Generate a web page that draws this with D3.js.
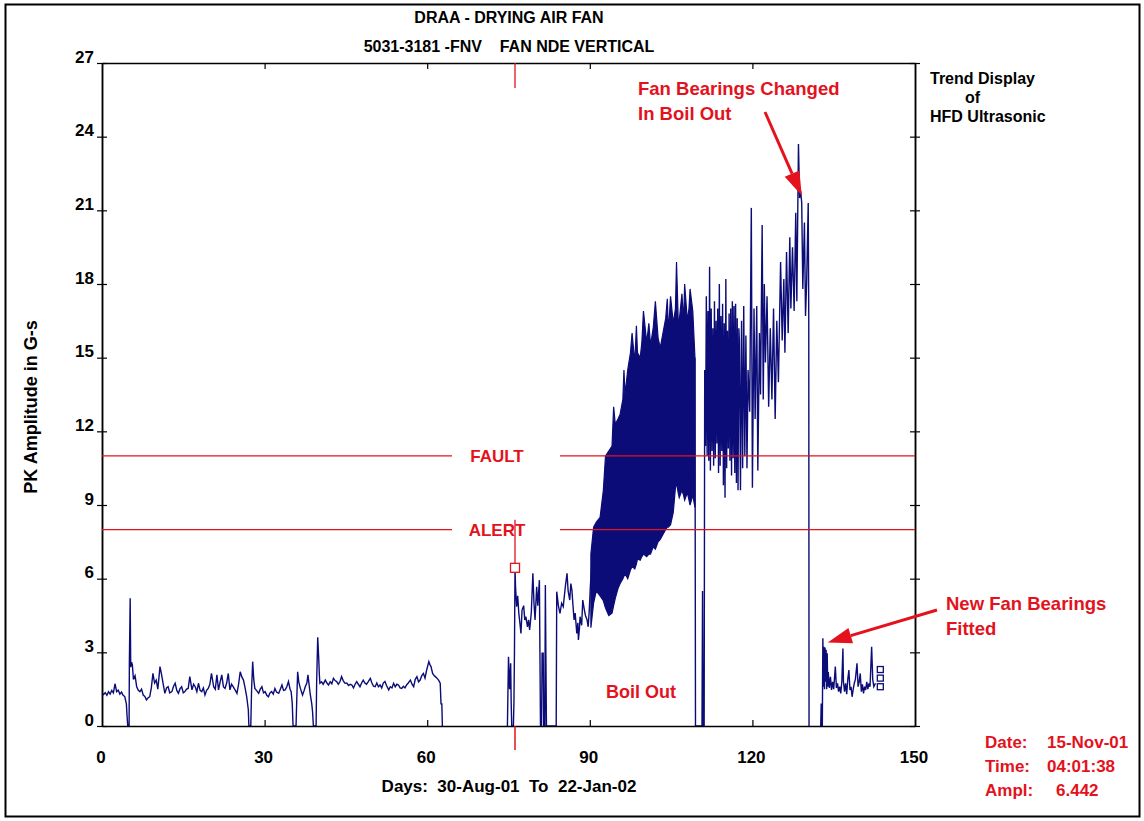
<!DOCTYPE html>
<html><head><meta charset="utf-8">
<script src="https://cdn.jsdelivr.net/npm/d3@7"></script>
<style>
body{margin:0;background:#fff;}
svg{display:block;font-family:"Liberation Sans",Arial,sans-serif;font-weight:bold;}
</style></head><body>
<svg id="c" width="1144" height="821"></svg>
<script>
// ---------- DATA ----------
const titleLines = ["DRAA - DRYING AIR FAN", "5031-3181 -FNV    FAN NDE VERTICAL"];
const yTicks = [0,3,6,9,12,15,18,21,24,27];
const xTicks = [0,30,60,90,120,150];
const yLabel = "PK Amplitude in G-s";
const xLabel = "Days:  30-Aug-01  To  22-Jan-02";
const sideTitle = ["Trend Display", "of", "HFD Ultrasonic"];
const faultLevel = 11, alertLevel = 8;
const cursorDay = 76.2, cursorAmp = 6.442;
const infoLabels = ["Date:", "Time:", "Ampl:"];
const infoValues = ["15-Nov-01", "04:01:38", "6.442"];

// segment before boil out (day, amplitude)
const segmentA = [[0,1.33],[0.3,1.28],[0.6,1.36],[0.9,1.25],[1.2,1.40],[1.5,1.30],[1.8,1.45],[2.1,1.35],[2.4,1.72],[2.7,1.40],[3.0,1.46],[3.3,1.30],[3.6,1.38],[3.9,1.25],[4.2,1.20],[4.5,0.9],[4.6,0.5],[4.75,0],[5.0,0],[5.05,2.6],[5.2,5.2],[5.3,2.4],[5.45,2.6],[5.6,2.5],[5.8,1.9],[6.1,2.05],[6.4,1.6],[6.7,1.45],[7.0,1.40],[7.3,1.50],[7.6,1.26],[7.9,1.20],[8.2,1.06],[8.5,1.15],[8.8,1.19],[9.1,1.55],[9.4,2.14],[9.7,1.75],[10.0,1.87],[10.3,1.50],[10.7,2.42],[11.0,2.08],[11.3,1.70],[11.6,1.33],[11.9,1.55],[12.2,1.60],[12.5,1.35],[12.9,1.40],[13.2,1.62],[13.5,1.74],[13.8,1.45],[14.1,1.33],[14.4,1.52],[14.7,1.60],[15.0,1.35],[15.3,1.40],[15.6,1.50],[15.9,1.53],[16.2,2.01],[16.6,1.47],[16.9,1.70],[17.2,1.60],[17.5,1.40],[17.8,1.74],[18.1,1.45],[18.4,1.40],[18.7,1.55],[19.0,1.26],[19.3,1.45],[19.6,1.53],[19.9,1.70],[20.2,2.14],[20.6,1.60],[20.9,1.50],[21.2,2.08],[21.5,1.47],[21.8,1.80],[22.1,2.08],[22.4,1.60],[22.7,1.53],[23.0,1.75],[23.3,2.14],[23.6,1.47],[23.9,1.70],[24.2,1.60],[24.6,1.45],[24.9,1.33],[25.2,1.70],[25.5,2.21],[25.8,2.00],[26.1,1.87],[26.4,1.55],[26.7,1.19],[27.0,0.65],[27.1,0],[27.45,0],[27.6,1.5],[27.8,2.62],[28.0,1.9],[28.2,1.53],[28.5,1.45],[28.9,1.33],[29.2,1.50],[29.5,1.60],[29.8,1.35],[30.1,1.40],[30.4,1.25],[30.7,1.19],[31.0,1.35],[31.3,1.40],[31.6,1.30],[31.9,1.53],[32.2,1.38],[32.6,1.33],[32.9,1.50],[33.2,1.67],[33.5,1.45],[33.8,1.47],[34.1,1.60],[34.4,1.81],[34.7,1.50],[34.9,1.40],[35.1,0.92],[35.25,0],[35.8,0],[35.95,1.2],[36.1,2.21],[36.3,1.8],[36.6,1.53],[37.0,1.26],[37.3,1.45],[37.5,1.60],[37.8,1.75],[38.0,2.08],[38.2,1.7],[38.4,1.33],[38.7,0.9],[38.85,0.58],[39.0,0],[39.5,0],[39.6,1.74],[39.8,3.61],[40.0,2.69],[40.1,2.1],[40.2,1.74],[40.5,1.80],[40.8,1.70],[41.2,1.87],[41.5,1.75],[41.8,1.67],[42.1,1.80],[42.4,1.72],[42.7,1.94],[43.0,1.85],[43.3,1.81],[43.6,1.70],[43.9,1.80],[44.2,2.01],[44.5,1.85],[44.8,1.75],[45.2,1.74],[45.5,1.65],[45.8,1.70],[46.1,1.67],[46.4,1.55],[46.7,1.70],[47.0,1.81],[47.3,1.70],[47.6,1.60],[47.9,1.75],[48.2,1.87],[48.5,1.75],[48.8,1.70],[49.1,1.80],[49.5,1.94],[49.8,1.75],[50.1,1.62],[50.4,1.60],[50.7,1.75],[51.0,1.60],[51.3,1.67],[51.6,1.55],[51.9,1.75],[52.2,1.81],[52.5,1.65],[52.9,1.47],[53.2,1.60],[53.5,1.55],[53.8,1.74],[54.1,1.60],[54.4,1.70],[54.7,1.67],[55.0,1.55],[55.3,1.53],[55.6,1.62],[55.9,1.55],[56.2,1.67],[56.5,1.75],[56.9,1.87],[57.2,1.70],[57.5,1.60],[57.8,1.90],[58.1,2.01],[58.4,1.80],[58.7,1.87],[59.0,2.05],[59.3,2.14],[59.6,1.95],[59.9,2.28],[60.1,2.45],[60.3,2.62],[60.5,2.50],[60.7,2.42],[61.0,2.14],[61.3,2.05],[61.5,2.01],[61.8,1.95],[62.1,1.87],[62.4,1.74],[62.55,0.9],[62.7,0.9],[62.8,0]];

// restart after shutdown
const segmentB = [[74.8,0],[75.0,2.82],[75.2,1.5],[75.4,2.55],[75.5,0.9],[75.6,0],[75.9,0],[76.0,0.92],[76.1,3.0],[76.2,6.44],[76.3,5.67],[76.5,4.86],[76.7,5.3],[76.9,4.6],[77.1,4.2],[77.3,3.77],[77.5,4.72],[77.8,4.9],[78.0,4.32],[78.2,4.45],[78.5,4.04],[78.7,4.32],[78.9,3.91],[79.2,4.59],[79.5,6.22],[79.7,5.0],[79.9,4.32],[80.2,5.67],[80.4,4.9],[80.7,5.94],[80.8,3.0],[80.9,0],[81.1,0],[81.2,2.96],[81.4,2.96],[81.5,0],[81.7,0],[81.8,5.74],[82.0,0],[83.8,0],[83.9,5.47],[84.2,4.9],[84.5,4.59],[84.8,5.0],[85.1,4.86],[85.5,5.7],[85.8,6.22],[86.0,5.5],[86.3,5.13],[86.5,5.8],[86.7,5.54],[86.9,4.9],[87.1,4.32],[87.3,4.6],[87.6,3.77],[87.8,4.2],[87.9,3.5],[88.1,4.0],[88.2,4.45],[88.5,4.1],[88.7,5.13],[89.0,4.72],[89.2,4.5],[89.5,4.32],[89.7,4.04],[89.9,4.7],[90.1,5.67],[90.4,6.76]];

// dense rising band (envelope of rapid readings)
const band1Days = [90.2,90.7,91.2,91.9,92.5,92.9,93.5,94.1,94.4,94.7,95.2,95.6,96.1,96.3,96.5,97.0,97.5,97.8,98.3,98.6,98.8,99.3,99.6,99.9,100.5,100.9,101.2,101.7,102.1,102.6,103.0,103.5,104.0,104.3,104.5,104.9,105.4,105.8,106.0,106.3,106.5,107.0,107.3,107.5,108.0,108.3,108.5,109.0,109.4];
const band1High = [7.0,8.1,8.3,8.5,9.6,11.0,11.2,11.4,13.0,12.3,12.5,12.7,13.3,14.5,13.5,14.5,15.2,16.0,14.8,16.3,15.2,15.0,15.6,16.9,15.6,16.4,15.5,16.2,17.3,15.8,15.4,16.0,16.6,17.4,16.0,17.5,16.4,17.0,18.9,16.6,16.5,17.6,16.4,18.0,16.5,17.0,17.8,16.9,15.0];
const band1Low = [4.0,5.0,5.5,5.3,5.1,4.8,4.5,4.6,4.9,5.2,5.6,5.8,6.0,6.1,6.2,6.0,6.35,6.5,6.4,6.6,6.8,6.75,6.9,7.0,6.9,7.0,7.0,7.3,7.2,7.5,7.6,7.8,8.0,8.1,8.1,8.2,8.7,9.7,9.9,9.5,9.3,9.6,9.4,9.2,9.5,9.2,9.0,9.4,8.9];

// second dense block and run-up to bearing change
const segmentC = [[109.4,15.0],[109.5,0],[110.7,0],[110.8,5.5],[110.9,0],[111.1,0],[111.2,14.5],[111.35,11.4],[111.5,17.5],[111.65,11.0],[111.8,16.9],[111.95,10.8],[112.1,18.7],[112.25,10.4],[112.4,17.0],[112.55,11.2],[112.7,16.2],[112.85,10.6],[113.0,17.3],[113.15,10.9],[113.3,16.5],[113.45,11.5],[113.6,17.0],[113.75,10.3],[113.9,18.0],[114.05,10.6],[114.2,16.7],[114.35,11.2],[114.5,17.2],[114.65,9.8],[114.8,16.4],[114.95,9.3],[115.1,18.2],[115.25,10.5],[115.4,16.1],[115.55,11.3],[115.7,16.8],[115.85,10.8],[116.0,17.0],[116.15,10.2],[116.3,17.3],[116.45,10.9],[116.6,17.1],[116.75,10.3],[116.9,17.2],[117.05,9.9],[117.2,16.6],[117.35,9.6],[117.5,16.2],[117.6,15.7],[117.8,9.6],[118.0,16.5],[118.2,10.5],[118.4,17.1],[118.6,11.0],[118.8,15.9],[119.0,10.5],[119.2,14.5],[119.5,12.8],[119.8,21.1],[120.0,9.7],[120.3,17.0],[120.5,12.5],[120.8,17.1],[121.0,10.4],[121.3,16.0],[121.5,13.5],[121.8,20.4],[122.0,13.3],[122.2,18.0],[122.4,14.8],[122.7,17.5],[123.0,13.0],[123.3,16.2],[123.6,13.3],[123.9,17.0],[124.2,12.5],[124.5,16.5],[124.8,14.0],[125.2,18.9],[125.5,15.7],[125.8,18.2],[126.0,15.2],[126.3,19.3],[126.6,16.0],[126.9,19.9],[127.1,17.0],[127.4,19.5],[127.7,16.9],[128.0,20.9],[128.2,17.3],[128.5,23.7],[128.7,21.5],[128.9,21.8],[129.1,21.3],[129.3,17.8],[129.6,20.5],[129.8,16.7],[130.0,18.0],[130.3,21.3],[130.4,16.6],[130.45,0]];

// after new bearings fitted
const segmentD = [[132.6,0],[132.7,0.92],[132.8,0],[132.9,0],[133.0,3.57],[133.1,1.6],[133.2,3.23],[133.3,1.5],[133.4,3.2],[133.5,1.8],[133.6,3.1],[133.7,1.5],[133.8,2.96],[133.9,1.6],[134.0,2.2],[134.2,1.55],[134.4,2.0],[134.6,1.47],[134.8,1.8],[135.0,1.5],[135.3,2.42],[135.5,1.55],[135.7,1.74],[135.9,1.4],[136.1,1.6],[136.3,1.33],[136.5,1.8],[136.7,3.16],[136.8,1.8],[137.0,1.4],[137.2,1.74],[137.4,1.3],[137.6,1.9],[137.8,2.28],[138.0,1.47],[138.2,1.6],[138.4,1.19],[138.6,1.5],[138.8,1.74],[139.0,1.9],[139.3,2.55],[139.5,1.6],[139.7,1.8],[139.9,2.14],[140.1,1.4],[140.3,1.7],[140.5,1.33],[140.7,1.6],[140.9,1.47],[141.1,1.8],[141.3,1.5],[141.5,1.74],[141.7,1.6],[142.0,3.23],[142.2,1.9],[142.4,1.6],[142.7,1.74]];
const endMarkers = [[143.6,2.3],[143.6,1.95],[143.6,1.6]];

const annotations = [
  {lines:["Fan Bearings Changed","In Boil Out"], tip:[129.1,21.6]},
  {lines:["New Fan Bearings","Fitted"], tip:[133.9,3.4]}
];

// ---------- DRAW ----------
const svg = d3.select("#c");
const x = d3.scaleLinear().domain([0,150]).range([102,915]);
const y = d3.scaleLinear().domain([0,27]).range([726,63]);
const NAVY = "#0c0c78", RED = "#e3121c";

// outer frame
svg.append("rect").attr("x",5.5).attr("y",4.5).attr("width",1134).attr("height",812)
  .attr("fill","none").attr("stroke","#000").attr("stroke-width",2);

// titles
svg.selectAll("text.title").data(titleLines).join("text")
  .attr("x",509).attr("y",(d,i)=>23+i*29).attr("text-anchor","middle")
  .attr("font-size",16).attr("fill","#000").style("white-space","pre").text(d=>d);

// data lines
const line = d3.line().x(d=>x(d[0])).y(d=>y(d[1]));
const area = d3.area().x(d=>x(d.day)).y0(d=>y(d.low)).y1(d=>y(d.high));
const band1 = band1Days.map((d,i)=>({day:d, low:band1Low[i], high:band1High[i]}));
svg.append("path").datum(band1).attr("d",area).attr("fill",NAVY).attr("stroke",NAVY).attr("stroke-width",1.2);
[segmentA, segmentB, segmentC, segmentD].forEach(seg=>{
  svg.append("path").datum(seg).attr("d",line).attr("fill","none")
    .attr("stroke",NAVY).attr("stroke-width",1.4).attr("stroke-linejoin","miter");
});
svg.selectAll("rect.em").data(endMarkers).join("rect")
  .attr("x",d=>x(d[0])-3).attr("y",d=>y(d[1])-3).attr("width",6).attr("height",6)
  .attr("fill","none").attr("stroke",NAVY).attr("stroke-width",1.3);

// axes
const gL = svg.append("g").attr("transform","translate(102,0)")
  .call(d3.axisLeft(y).tickValues(yTicks).tickSize(5).tickSizeOuter(0).tickPadding(3));
gL.selectAll("text").attr("font-size",17).attr("font-weight","bold").attr("font-family","Liberation Sans, Arial").attr("fill","#000").attr("dy","-0.05em");
svg.append("g").attr("transform","translate(102,0)")
  .call(d3.axisRight(y).tickValues(yTicks).tickSize(5).tickSizeOuter(0).tickFormat(""));
svg.append("g").attr("transform","translate(915,0)")
  .call(d3.axisLeft(y).tickValues(yTicks).tickSize(5).tickSizeOuter(0).tickFormat(""));
svg.append("g").attr("transform","translate(915,0)")
  .call(d3.axisRight(y).tickValues(yTicks).tickSize(5).tickSizeOuter(0).tickFormat(""));
const gB = svg.append("g").attr("transform","translate(0,726)")
  .call(d3.axisTop(x).tickValues(xTicks.slice(1,-1)).tickSize(6).tickSizeOuter(0));
svg.append("g").attr("transform","translate(0,63)")
  .call(d3.axisBottom(x).tickValues(xTicks.slice(1,-1)).tickSize(6).tickSizeOuter(0).tickFormat(""));
gB.selectAll("text").remove();
svg.selectAll("text.xt").data(xTicks).join("text").attr("class","xt")
  .attr("x",d=>x(d)-1).attr("y",763).attr("text-anchor","middle").attr("font-size",17).attr("fill","#000").text(d=>d);
svg.selectAll(".domain").attr("stroke","#000").attr("stroke-width",1.5);
svg.selectAll(".tick line").attr("stroke","#000").attr("stroke-width",1.2);

// axis titles
svg.append("text").attr("transform","translate(37,407) rotate(-90)").attr("text-anchor","middle")
  .attr("font-size",18).attr("fill","#000").text(yLabel);
svg.append("text").attr("x",509).attr("y",792).attr("text-anchor","middle")
  .attr("font-size",17).attr("fill","#000").style("white-space","pre").text(xLabel);
svg.selectAll("text.side").data(sideTitle).join("text")
  .attr("x",(d,i)=>i===1?965:930).attr("y",(d,i)=>84+i*19).attr("font-size",16).attr("fill","#000").text(d=>d);

// fault / alert lines
[[faultLevel,"FAULT"],[alertLevel,"ALERT"]].forEach(([lv,lab])=>{
  const yy = y(lv);
  svg.append("line").attr("x1",102).attr("x2",452).attr("y1",yy).attr("y2",yy).attr("stroke",RED).attr("stroke-width",1.3);
  svg.append("line").attr("x1",560).attr("x2",915).attr("y1",yy).attr("y2",yy).attr("stroke",RED).attr("stroke-width",1.3);
  svg.append("text").attr("x",497).attr("y",yy+6).attr("text-anchor","middle").attr("font-size",17).attr("fill",RED).text(lab);
});

// cursor
const cx = x(cursorDay);
svg.append("line").attr("x1",cx).attr("x2",cx).attr("y1",63).attr("y2",88).attr("stroke",RED).attr("stroke-width",1.3);
svg.append("line").attr("x1",cx).attr("x2",cx).attr("y1",y(8.4)).attr("y2",y(cursorAmp)).attr("stroke",RED).attr("stroke-width",1.3);
svg.append("line").attr("x1",cx).attr("x2",cx).attr("y1",726).attr("y2",750).attr("stroke",RED).attr("stroke-width",1.5);
svg.append("rect").attr("x",cx-4.5).attr("y",y(cursorAmp)-4.5).attr("width",9).attr("height",9)
  .attr("fill","#fff").attr("stroke",RED).attr("stroke-width",1.3);

// Boil Out
svg.append("text").attr("x",641).attr("y",698).attr("text-anchor","middle").attr("font-size",18).attr("fill",RED).text("Boil Out");

// annotations
function arrow(x1,y1,x2,y2){
  const a = Math.atan2(y2-y1,x2-x1), L=24, W=8;
  const bx = x2-L*Math.cos(a), by = y2-L*Math.sin(a);
  svg.append("line").attr("x1",x1).attr("y1",y1).attr("x2",bx).attr("y2",by).attr("stroke",RED).attr("stroke-width",3);
  svg.append("path").attr("d",`M${x2},${y2}L${bx+W*Math.sin(a)},${by-W*Math.cos(a)}L${bx-W*Math.sin(a)},${by+W*Math.cos(a)}Z`).attr("fill",RED);
}
svg.selectAll("text.a1").data(annotations[0].lines).join("text").attr("class","a1")
  .attr("x",638).attr("y",(d,i)=>95+i*25).attr("font-size",18.5).attr("fill",RED).text(d=>d);
arrow(765,112,x(annotations[0].tip[0]),y(annotations[0].tip[1]));
svg.selectAll("text.a2").data(annotations[1].lines).join("text").attr("class","a2")
  .attr("x",946).attr("y",(d,i)=>610+i*25).attr("font-size",18.5).attr("fill",RED).text(d=>d);
arrow(937,610,x(annotations[1].tip[0]),y(annotations[1].tip[1]));

// info box
infoLabels.forEach((l,i)=>{
  svg.append("text").attr("x",985).attr("y",748+i*24).attr("font-size",17).attr("fill",RED).text(l);
  svg.append("text").attr("x",i===2?1056:1047).attr("y",748+i*24).attr("font-size",17).attr("fill",RED).text(infoValues[i]);
});
</script></body></html>
